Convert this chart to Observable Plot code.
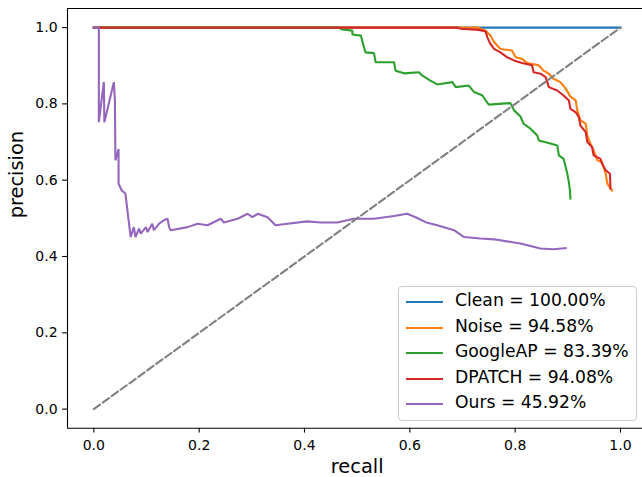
<!DOCTYPE html>
<html>
<head>
<meta charset="utf-8">
<script src="https://cdn.jsdelivr.net/npm/d3@7"></script>
<script src="https://cdn.jsdelivr.net/npm/@observablehq/plot@0.6"></script>
<style>
  html, body { margin: 0; padding: 0; background: white; }
  #wrap { position: relative; width: 642px; height: 477px; overflow: hidden; font-family: "DejaVu Sans", sans-serif; }
  #legend { position: absolute; left: 398px; top: 286px; width: 237px; height: 131px;
    border: 1px solid #cccccc; border-radius: 4px; background: rgba(255,255,255,0.8);
    box-sizing: content-box; padding-top: 2px; }
  .row { height: 25.5px; line-height: 25.5px; font-size: 17.2px; color: #000; white-space: nowrap; position: relative; }
  .sw { position: absolute; left: 6.5px; top: 12px; width: 37px; height: 0; border-top: 2px solid; }
  .lab { position: absolute; left: 56px; top: -1px; }
</style>
</head>
<body>
<div id="wrap"></div>
<script>
// ---- data ----
const seriesNames = ["Clean", "Noise", "GoogleAP", "DPATCH", "Ours"];
const seriesAP = ["100.00%", "94.58%", "83.39%", "94.08%", "45.92%"];
const seriesColors = ["#1f77b4", "#ff7f0e", "#2ca02c", "#d62728", "#9467bd"];

const cleanRecall = [0, 1];
const cleanPrecision = [1, 1];

const noiseRecall = [0, 0.728, 0.744, 0.753, 0.760, 0.766, 0.772, 0.794, 0.801, 0.813, 0.823, 0.845, 0.854, 0.864, 0.873, 0.886, 0.896, 0.905, 0.915, 0.918, 0.924, 0.934, 0.937, 0.943, 0.949, 0.956, 0.965, 0.972, 0.975, 0.984];
const noisePrecision = [1, 1, 0.992, 0.979, 0.962, 0.953, 0.944, 0.940, 0.922, 0.918, 0.907, 0.901, 0.887, 0.879, 0.866, 0.857, 0.840, 0.819, 0.809, 0.783, 0.757, 0.748, 0.717, 0.696, 0.678, 0.652, 0.647, 0.617, 0.591, 0.573];

const googleRecall = [0, 0.465, 0.472, 0.491, 0.491, 0.507, 0.513, 0.516, 0.532, 0.535, 0.570, 0.573, 0.589, 0.617, 0.624, 0.639, 0.652, 0.681, 0.687, 0.712, 0.722, 0.738, 0.744, 0.750, 0.769, 0.791, 0.798, 0.810, 0.816, 0.829, 0.842, 0.845, 0.867, 0.880, 0.883, 0.892, 0.896, 0.899, 0.902, 0.904, 0.905];
const googlePrecision = [1, 1, 0.995, 0.992, 0.982, 0.979, 0.948, 0.935, 0.933, 0.909, 0.909, 0.887, 0.880, 0.883, 0.874, 0.861, 0.851, 0.857, 0.844, 0.848, 0.831, 0.822, 0.809, 0.798, 0.800, 0.802, 0.783, 0.767, 0.748, 0.735, 0.717, 0.704, 0.696, 0.691, 0.665, 0.656, 0.634, 0.617, 0.595, 0.573, 0.552];

const dpatchRecall = [0, 0.690, 0.696, 0.731, 0.744, 0.747, 0.753, 0.760, 0.772, 0.785, 0.798, 0.813, 0.832, 0.835, 0.848, 0.858, 0.864, 0.880, 0.892, 0.902, 0.905, 0.915, 0.921, 0.924, 0.934, 0.937, 0.946, 0.949, 0.962, 0.965, 0.972, 0.980, 0.981];
const dpatchPrecision = [1, 1, 0.997, 0.994, 0.990, 0.975, 0.957, 0.944, 0.935, 0.922, 0.914, 0.907, 0.901, 0.883, 0.879, 0.870, 0.844, 0.835, 0.822, 0.809, 0.787, 0.778, 0.765, 0.743, 0.726, 0.700, 0.687, 0.665, 0.656, 0.643, 0.626, 0.617, 0.578];

const oursRecall = [0, 0.0095, 0.0095, 0.019, 0.020, 0.038, 0.040, 0.041, 0.047, 0.047, 0.053, 0.060, 0.063, 0.066, 0.070, 0.076, 0.079, 0.086, 0.089, 0.099, 0.102, 0.111, 0.114, 0.124, 0.133, 0.140, 0.143, 0.146, 0.178, 0.197, 0.216, 0.241, 0.247, 0.273, 0.292, 0.301, 0.311, 0.330, 0.345, 0.368, 0.405, 0.431, 0.462, 0.494, 0.532, 0.570, 0.595, 0.611, 0.630, 0.652, 0.684, 0.703, 0.734, 0.760, 0.810, 0.848, 0.873, 0.896];
const oursPrecision = [1, 1, 0.752, 0.857, 0.752, 0.857, 0.809, 0.652, 0.682, 0.591, 0.573, 0.565, 0.530, 0.495, 0.451, 0.477, 0.451, 0.473, 0.460, 0.477, 0.464, 0.486, 0.469, 0.486, 0.495, 0.499, 0.477, 0.469, 0.477, 0.486, 0.482, 0.499, 0.489, 0.499, 0.512, 0.503, 0.512, 0.503, 0.482, 0.486, 0.492, 0.489, 0.489, 0.499, 0.499, 0.506, 0.512, 0.503, 0.490, 0.482, 0.469, 0.451, 0.447, 0.445, 0.434, 0.421, 0.419, 0.422];

const diagRecall = [0, 1];
const diagPrecision = [0, 1];

const xTicks = [0, 0.2, 0.4, 0.6, 0.8, 1.0];
const yTicks = [0, 0.2, 0.4, 0.6, 0.8, 1.0];
const xLimits = [-0.05, 1.0418];
const yLimits = [-0.05, 1.05];
const xLabel = "recall";
const yLabel = "precision";

// ---- build ----
const allRecall = [cleanRecall, noiseRecall, googleRecall, dpatchRecall, oursRecall];
const allPrecision = [cleanPrecision, noisePrecision, googlePrecision, dpatchPrecision, oursPrecision];
const toRows = (rs, ps) => rs.map((r, i) => ({recall: r, precision: ps[i]}));

const lineMarks = seriesNames.map((name, k) =>
  Plot.line(toRows(allRecall[k], allPrecision[k]), {
    x: "recall", y: "precision", stroke: seriesColors[k], strokeWidth: 2.1,
    strokeLinejoin: "miter", strokeLinecap: "square"
  })
);

const chart = Plot.plot({
  width: 642,
  height: 477,
  marginLeft: 67,
  marginRight: 0,
  marginTop: 8,
  marginBottom: 49.3,
  style: { fontFamily: "DejaVu Sans", fontSize: "14px", background: "white", color: "black", overflow: "visible" },
  x: { domain: xLimits },
  y: { domain: yLimits },
  marks: [
    ...lineMarks,
    Plot.line(toRows(diagRecall, diagPrecision), {
      x: "recall", y: "precision", stroke: "#808080", strokeWidth: 2.1, strokeDasharray: "7.7,3.3"
    }),
    Plot.ruleY([yLimits[1]], { stroke: "black", strokeWidth: 1.1 }),
    Plot.ruleY([yLimits[0]], { stroke: "black", strokeWidth: 1.1 }),
    Plot.ruleX([xLimits[0]], { stroke: "black", strokeWidth: 1.1 }),
    Plot.axisX({ ticks: xTicks, tickFormat: d3.format(".1f"), tickSize: 4.9, tickPadding: 7.4, strokeWidth: 1.1, label: null, fontSize: 14 }),
    Plot.axisY({ ticks: yTicks, tickFormat: d3.format(".1f"), tickSize: 4.9, tickPadding: 5, strokeWidth: 1.1, label: null, fontSize: 14 }),
    Plot.text([xLabel], { x: [0.5], text: d => d, frameAnchor: "bottom", dy: 44.8, lineAnchor: "bottom", fontSize: 19.4 }),
    Plot.text([yLabel], { y: [0.5], text: d => d, frameAnchor: "left", rotate: -90, dx: -45, lineAnchor: "bottom", fontSize: 19.4 })
  ]
});

const wrap = document.getElementById("wrap");
wrap.appendChild(chart);

const legend = document.createElement("div");
legend.id = "legend";
seriesNames.forEach((name, k) => {
  const row = document.createElement("div");
  row.className = "row";
  const sw = document.createElement("div");
  sw.className = "sw";
  sw.style.borderTopColor = seriesColors[k];
  const lab = document.createElement("span");
  lab.className = "lab";
  lab.textContent = `${name} = ${seriesAP[k]}`;
  row.appendChild(sw);
  row.appendChild(lab);
  legend.appendChild(row);
});
wrap.appendChild(legend);
</script>
</body>
</html>
